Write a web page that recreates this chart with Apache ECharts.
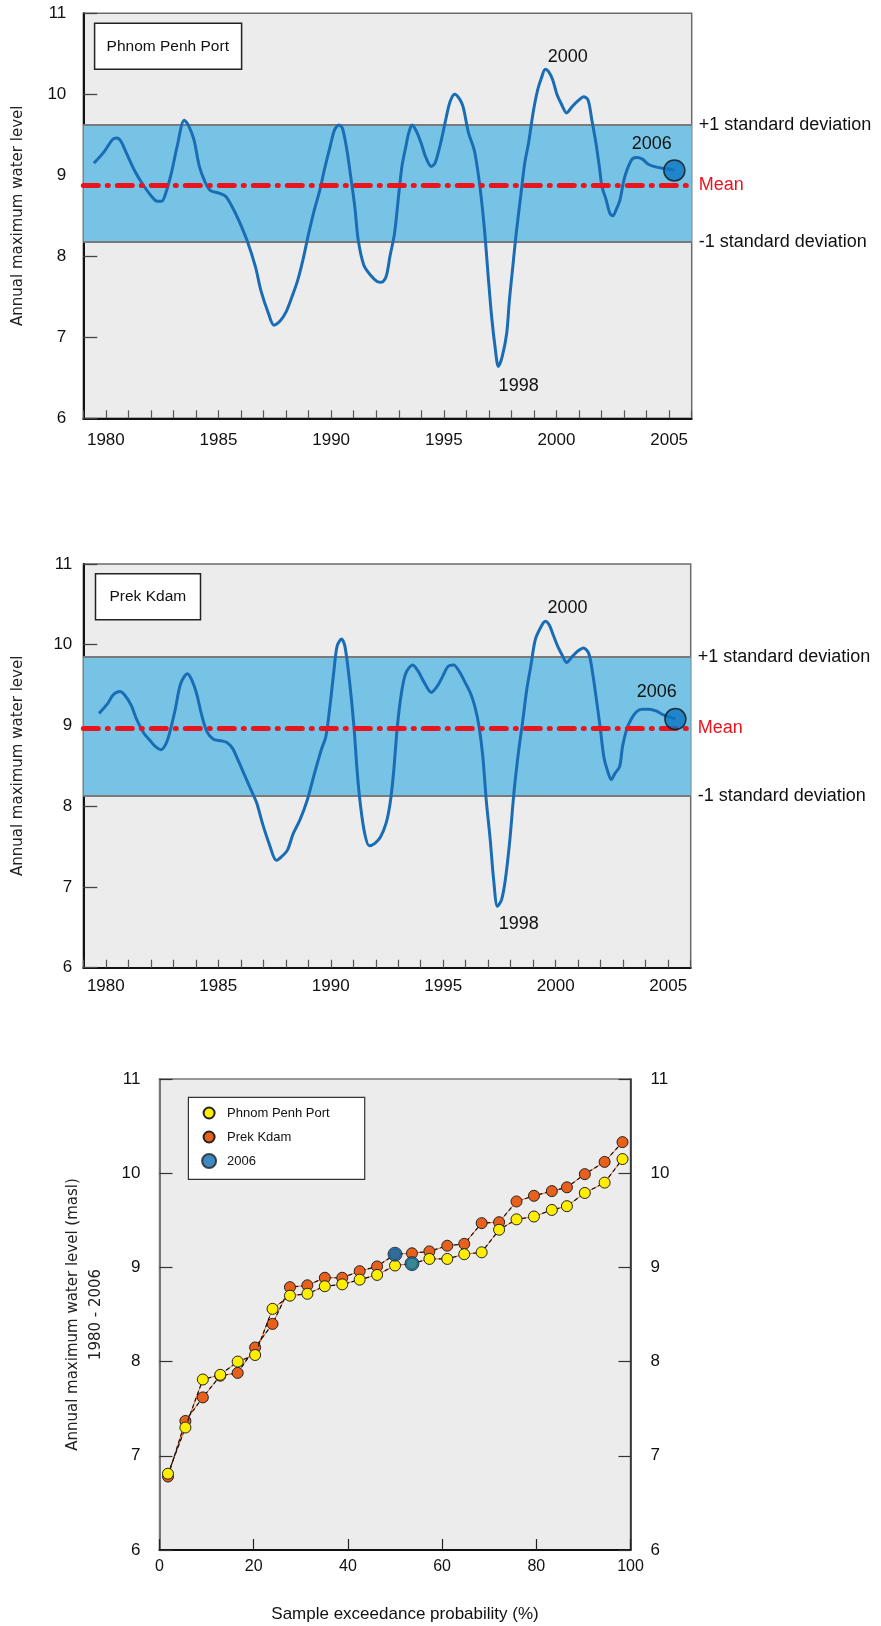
<!DOCTYPE html>
<html><head><meta charset="utf-8">
<script src="https://cdn.jsdelivr.net/npm/echarts@6.0.0/dist/echarts.min.js"></script>
<style>html,body{margin:0;padding:0;background:#fff}#c{width:881px;height:1626px}</style>
</head><body><div id="c"></div>
<script>
// ---------- DATA ----------
// Phnom Penh Port smoothed annual-maximum curve (year, m)
const ppYears = [1979.47,1979.92,1980.29,1980.49,1980.67,1980.92,1981.29,1981.66,1982.03,1982.28,1982.48,1982.66,1982.91,1983.16,1983.48,1983.66,1983.91,1984.15,1984.4,1984.65,1985.02,1985.32,1985.57,1985.89,1986.26,1986.64,1986.88,1987.21,1987.46,1987.76,1988.01,1988.26,1988.5,1988.75,1989.0,1989.25,1989.5,1989.7,1989.95,1990.15,1990.35,1990.5,1990.7,1990.87,1991.05,1991.2,1991.45,1991.74,1992.04,1992.24,1992.44,1992.61,1992.81,1992.99,1993.14,1993.31,1993.44,1993.59,1993.79,1993.99,1994.19,1994.44,1994.61,1994.86,1995.11,1995.28,1995.48,1995.68,1995.85,1996.1,1996.35,1996.52,1996.67,1996.82,1996.97,1997.12,1997.27,1997.42,1997.59,1997.79,1997.91,1998.06,1998.21,1998.41,1998.59,1998.76,1998.96,1999.16,1999.33,1999.5,1999.65,1999.83,2000.03,2000.2,2000.45,2000.7,2001.0,2001.2,2001.4,2001.57,2001.75,2001.9,2002.02,2002.2,2002.37,2002.5,2002.64,2002.82,2002.99,2003.19,2003.39,2003.59,2003.81,2004.06,2004.31,2004.64,2004.93,2005.23];
const ppLevels = [9.15,9.29,9.44,9.46,9.42,9.27,9.05,8.88,8.74,8.68,8.68,8.78,9.03,9.35,9.68,9.62,9.44,9.11,8.92,8.81,8.78,8.74,8.63,8.45,8.20,7.87,7.58,7.30,7.15,7.21,7.32,7.50,7.69,7.96,8.28,8.57,8.82,9.07,9.35,9.56,9.62,9.58,9.31,8.98,8.61,8.20,7.89,7.77,7.69,7.68,7.75,8.00,8.28,8.74,9.11,9.35,9.52,9.62,9.54,9.40,9.23,9.11,9.15,9.40,9.72,9.91,10.00,9.95,9.85,9.52,9.31,9.03,8.70,8.28,7.75,7.26,6.89,6.64,6.76,7.05,7.46,7.87,8.28,8.74,9.15,9.40,9.77,10.05,10.20,10.31,10.28,10.18,9.99,9.89,9.77,9.85,9.93,9.97,9.93,9.68,9.40,9.11,8.86,8.70,8.53,8.50,8.57,8.70,8.94,9.11,9.21,9.22,9.20,9.14,9.11,9.09,9.08,9.06];
const ppStats = [8.18, 8.88, 9.62];   // -1 sd, mean, +1 sd

// Prek Kdam smoothed annual-maximum curve (year, m)
const pkYears = [1979.70,1980.08,1980.33,1980.63,1980.83,1981.13,1981.38,1981.70,1981.95,1982.20,1982.45,1982.65,1982.83,1983.08,1983.33,1983.63,1983.83,1984.03,1984.28,1984.50,1984.78,1985.13,1985.38,1985.63,1985.88,1986.13,1986.46,1986.71,1986.96,1987.28,1987.58,1987.83,1988.08,1988.33,1988.63,1988.96,1989.28,1989.58,1989.78,1989.96,1990.13,1990.28,1990.48,1990.63,1990.83,1991.03,1991.18,1991.33,1991.51,1991.71,1991.96,1992.21,1992.46,1992.64,1992.79,1992.96,1993.14,1993.34,1993.64,1993.89,1994.14,1994.47,1994.72,1994.96,1995.21,1995.46,1995.71,1995.96,1996.21,1996.41,1996.59,1996.76,1996.91,1997.09,1997.24,1997.41,1997.59,1997.76,1997.96,1998.14,1998.34,1998.54,1998.71,1998.89,1999.09,1999.34,1999.54,1999.72,1999.89,2000.09,2000.29,2000.49,2000.72,2000.97,2001.24,2001.47,2001.64,2001.79,2001.97,2002.14,2002.29,2002.47,2002.64,2002.84,2002.97,2003.14,2003.34,2003.59,2003.84,2004.14,2004.46,2004.79,2005.32];
const pkLevels = [9.15,9.27,9.38,9.42,9.38,9.25,9.07,8.90,8.82,8.74,8.70,8.76,8.90,9.19,9.52,9.64,9.56,9.40,9.11,8.92,8.83,8.81,8.79,8.72,8.57,8.41,8.20,8.04,7.79,7.52,7.33,7.38,7.46,7.66,7.83,8.08,8.41,8.70,8.86,9.23,9.65,9.98,10.07,9.98,9.56,8.99,8.41,7.99,7.66,7.51,7.54,7.62,7.79,8.04,8.41,8.99,9.40,9.65,9.75,9.67,9.54,9.41,9.48,9.60,9.73,9.75,9.67,9.54,9.40,9.23,8.99,8.61,8.08,7.58,7.09,6.76,6.84,7.09,7.58,8.16,8.66,9.07,9.44,9.73,10.06,10.22,10.29,10.24,10.12,9.98,9.87,9.78,9.85,9.92,9.96,9.89,9.65,9.36,8.99,8.61,8.45,8.33,8.41,8.49,8.74,8.94,9.07,9.17,9.20,9.20,9.18,9.13,9.08];
const pkStats = [8.13, 8.97, 9.85];

// Exceedance chart (1980-2006, sorted)
const exceedProb = [1.8,5.5,9.2,12.9,16.6,20.3,24.0,27.7,31.4,35.1,38.8,42.5,46.2,50.0,53.6,57.3,61.1,64.7,68.4,72.1,75.8,79.5,83.3,86.5,90.3,94.5,98.3];
const ppSorted = [6.81,7.30,7.81,7.86,8.00,8.07,8.56,8.70,8.72,8.80,8.82,8.87,8.92,9.02,9.04,9.09,9.09,9.14,9.16,9.40,9.51,9.54,9.61,9.65,9.79,9.90,10.15];
const pkSorted = [6.78,7.37,7.62,7.85,7.88,8.15,8.40,8.79,8.81,8.89,8.89,8.96,9.01,9.14,9.15,9.17,9.23,9.25,9.47,9.48,9.70,9.76,9.81,9.85,9.99,10.12,10.33];
const pk2006Index = 13, pp2006Index = 14;
const yearTicks = [1980, 1985, 1990, 1995, 2000, 2005];

// ---------- OPTION ----------
const zip = (a, b) => a.map((v, i) => [v, b[i]]);
const FONT = 'Liberation Sans, Arial, sans-serif';
const FONT2 = 'DejaVu Sans, Verdana, sans-serif';
const BLUE_LINE = '#1a6db5', BAND = '#77c3e6', RED = '#e8141e';
const SMALL_DOT = 'path://M0,0M14,14M12.5,7A5.5,5.5,0,1,1,1.5,7A5.5,5.5,0,1,1,12.5,7Z';

function yearAxis(gi, margin) {
  return {gridIndex: gi, type: 'value', min: 1979, max: 2006, interval: 1,
    axisLine: {show: true, onZero: false, lineStyle: {color: '#111', width: 2}},
    axisTick: {show: true, inside: true, length: 8, lineStyle: {color: '#555', width: 1.2}},
    axisLabel: {margin: margin, fontSize: 17, color: '#111', fontFamily: FONT,
      formatter: v => yearTicks.indexOf(v) >= 0 ? String(v) : ''},
    splitLine: {show: false}};
}
function levelAxis(gi, margin) {
  return {gridIndex: gi, type: 'value', min: 6, max: 11, interval: 1,
    axisLine: {show: true, onZero: false, lineStyle: {color: '#111', width: 2}},
    axisTick: {show: true, inside: true, length: 14, lineStyle: {color: '#444', width: 1.3}},
    axisLabel: {margin: margin, fontSize: 17, color: '#111', fontFamily: FONT},
    splitLine: {show: false},
    name: 'Annual maximum water level', nameLocation: 'middle', nameGap: 58,
    nameTextStyle: {fontFamily: FONT2, fontSize: 15, color: '#222'}};
}
function curveSeries(gi, xs, ys, stats, notes) {
  return {type: 'line', xAxisIndex: gi, yAxisIndex: gi, data: zip(xs, ys),
    showSymbol: false, symbol: 'none', smooth: 0.3, z: 3, silent: true,
    lineStyle: {color: BLUE_LINE, width: 3},
    markArea: {silent: true, z: 1, itemStyle: {color: BAND},
      data: [[{yAxis: stats[0]}, {yAxis: stats[2]}]]},
    markLine: {silent: true, z: 2, symbol: 'none',
      lineStyle: {color: '#7a7a7a', width: 2, type: 'solid'},
      label: {position: 'end', distance: 7, fontSize: 18, color: '#111', fontFamily: FONT, formatter: '{b}'},
      data: [{yAxis: stats[2], name: '+1 standard deviation'}, {yAxis: stats[0], name: '-1 standard deviation'}]},
    markPoint: {silent: true, z: 6, symbol: 'circle', symbolSize: 1, itemStyle: {color: 'rgba(0,0,0,0)'},
      label: {show: true, position: 'inside', fontSize: 18, color: '#111', fontFamily: FONT, formatter: '{b}'},
      data: notes}};
}
function lastSeries(gi, xs, ys, stats) {
  const n = xs.length - 1;
  return {type: 'scatter', xAxisIndex: gi, yAxisIndex: gi, data: [[xs[n], ys[n]]], silent: true,
    symbolSize: 21, z: 6, itemStyle: {color: '#0b77c2', borderColor: '#111', borderWidth: 1.5},
    markLine: {silent: true, z: 5, symbol: 'none',
      lineStyle: {color: RED, width: 5, type: [15, 9, 1, 9], cap: 'round'},
      label: {position: 'end', distance: 7, fontSize: 18, color: RED, fontFamily: FONT, formatter: '{b}'},
      data: [{yAxis: stats[1], name: 'Mean'}]}};
}

const option = {
  animation: false,
  backgroundColor: '#fff',
  title: [
    {text: 'Phnom Penh Port', left: 94, top: 23.3, padding: [15, 12.6, 15, 12.6], borderWidth: 1.5, borderColor: '#222',
     backgroundColor: '#fff', textStyle: {fontSize: 15.5, fontWeight: 'normal', fontFamily: FONT, color: '#111'}},
    {text: 'Prek Kdam', left: 95, top: 573.3, padding: [15.5, 14.5, 15.5, 14.5], borderWidth: 1.5, borderColor: '#222',
     backgroundColor: '#fff', textStyle: {fontSize: 15.5, fontWeight: 'normal', fontFamily: FONT, color: '#111'}}
  ],
  legend: {data: [{name: 'Phnom Penh Port', icon: SMALL_DOT}, {name: 'Prek Kdam', icon: SMALL_DOT}, {name: '2006', icon: 'circle'}],
    orient: 'vertical', left: 188.4, top: 1097.4, padding: [7.6, 35, 10.4, 12.7], itemWidth: 14, itemHeight: 14, itemGap: 8,
    backgroundColor: '#fff', borderColor: '#333', borderWidth: 1.2, selectedMode: false,
    textStyle: {fontSize: 13, fontFamily: FONT, color: '#111', padding: [0, 0, 0, 6]}},
  grid: [
    {left: 83.3, top: 13.3, width: 608.4, height: 405, show: true, backgroundColor: '#ececec', borderColor: '#6b6b6b', borderWidth: 1.5, outerBoundsMode: 'none'},
    {left: 83.3, top: 564, width: 607.4, height: 403.7, show: true, backgroundColor: '#ececec', borderColor: '#6b6b6b', borderWidth: 1.5, outerBoundsMode: 'none'},
    {left: 159.5, top: 1079, width: 471, height: 471, show: true, backgroundColor: '#ececec', borderColor: '#777', borderWidth: 1.5, outerBoundsMode: 'none'}
  ],
  xAxis: [
    yearAxis(0, 14), yearAxis(1, 10.5),
    {gridIndex: 2, type: 'value', min: 0, max: 100, interval: 20,
     axisLine: {show: true, onZero: false, lineStyle: {color: '#111', width: 2}},
     axisTick: {show: true, inside: true, length: 11, lineStyle: {color: '#222', width: 1.2}},
     axisLabel: {margin: 9, fontSize: 16, color: '#111', fontFamily: FONT},
     splitLine: {show: false},
     name: 'Sample exceedance probability (%)', nameLocation: 'middle', nameGap: 56,
     nameTextStyle: {fontSize: 17, color: '#111', fontFamily: FONT, padding: [0, 0, 0, 20]}}
  ],
  yAxis: [
    levelAxis(0, 17), levelAxis(1, 11),
    Object.assign(levelAxis(2, 19), {
      name: 'Annual maximum water level (masl)\n1980 - 2006', nameGap: 52,
      nameTextStyle: {fontFamily: FONT2, fontSize: 15, color: '#222', lineHeight: 22.6},
      axisLine: {show: true, onZero: false, lineStyle: {color: '#777', width: 2}},
      axisTick: {show: true, inside: true, length: 13, lineStyle: {color: '#333', width: 1.2}},
      axisLabel: {margin: 19, fontSize: 17, color: '#111', fontFamily: FONT, padding: [0, 0, 10, 0]}}),
    {gridIndex: 2, type: 'value', min: 6, max: 11, interval: 1, position: 'right',
     axisLine: {show: true, onZero: false, lineStyle: {color: '#222', width: 1.5}},
     axisTick: {show: true, inside: true, length: 12, lineStyle: {color: '#333', width: 1.2}},
     axisLabel: {margin: 20, fontSize: 17, color: '#111', fontFamily: FONT, padding: [0, 0, 10, 0]},
     splitLine: {show: false}}
  ],
  series: [
    curveSeries(0, ppYears, ppLevels, ppStats, [
      {name: '2000', coord: [2000.5, 10.46]}, {name: '2006', coord: [2004.23, 9.39]}, {name: '1998', coord: [1998.32, 6.40]}]),
    lastSeries(0, ppYears, ppLevels, ppStats),
    curveSeries(1, pkYears, pkLevels, pkStats, [
      {name: '2000', coord: [2000.52, 10.46]}, {name: '2006', coord: [2004.49, 9.42]}, {name: '1998', coord: [1998.36, 6.54]}]),
    lastSeries(1, pkYears, pkLevels, pkStats),
    // exceedance chart
    {type: 'line', xAxisIndex: 2, yAxisIndex: 2, data: zip(exceedProb, pkSorted), symbol: 'none', silent: true, z: 2,
     lineStyle: {color: '#e8601c', width: 1}},
    {type: 'line', xAxisIndex: 2, yAxisIndex: 2, data: zip(exceedProb, ppSorted), symbol: 'none', silent: true, z: 2,
     lineStyle: {color: '#e8601c', width: 1}},
    {name: 'Prek Kdam', type: 'line', xAxisIndex: 2, yAxisIndex: 2, data: zip(exceedProb, pkSorted), silent: true, z: 3,
     symbol: 'circle', symbolSize: 11, showSymbol: true,
     lineStyle: {color: '#111', width: 1.2, type: [4, 3]},
     itemStyle: {color: '#e8601c', borderColor: '#222', borderWidth: 1}},
    {name: 'Phnom Penh Port', type: 'line', xAxisIndex: 2, yAxisIndex: 2, data: zip(exceedProb, ppSorted), silent: true, z: 4,
     symbol: 'circle', symbolSize: 11, showSymbol: true,
     lineStyle: {color: '#111', width: 1.2, type: [4, 3]},
     itemStyle: {color: '#ffee00', borderColor: '#222', borderWidth: 1}},
    {name: '2006', type: 'scatter', xAxisIndex: 2, yAxisIndex: 2, silent: true, z: 5, symbolSize: 14,
     data: [[exceedProb[pk2006Index], pkSorted[pk2006Index]], [exceedProb[pp2006Index], ppSorted[pp2006Index]]],
     itemStyle: {color: '#0a6db3', borderColor: '#222', borderWidth: 1}}
  ]
};
const chart = echarts.init(document.getElementById('c'), null, {renderer: 'canvas'});
chart.setOption(option);
</script></body></html>
